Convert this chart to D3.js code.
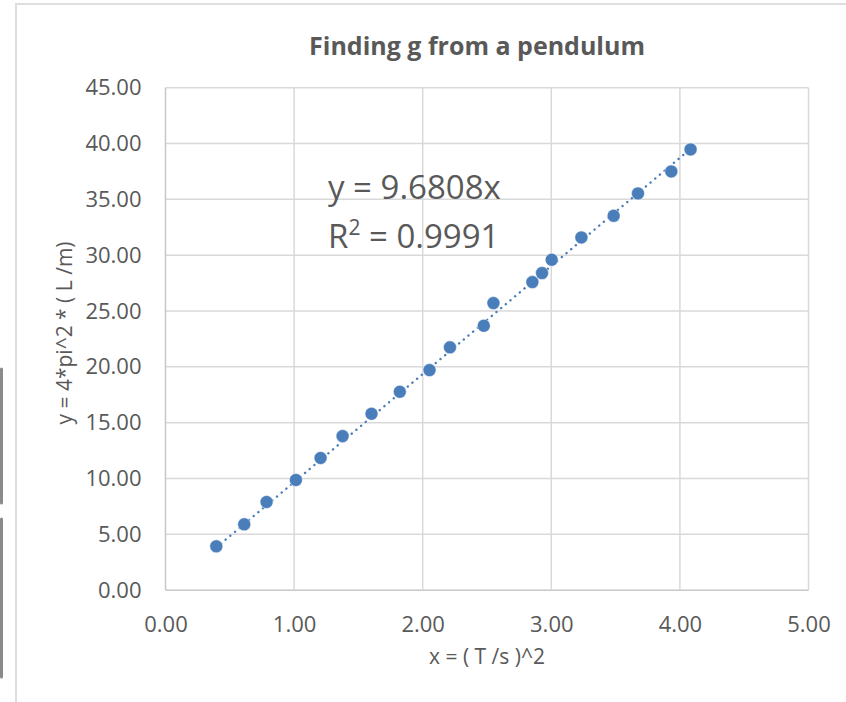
<!DOCTYPE html>
<html>
<head>
<meta charset="utf-8">
<script src="https://cdn.jsdelivr.net/npm/d3@7"></script>
<style>
  html, body { margin: 0; padding: 0; background: #ffffff; }
  svg { display: block; }
  text { font-family: "Open Sans", "Noto Sans", sans-serif; fill: #595959; }
</style>
</head>
<body>
<svg id="chart" width="846" height="702"></svg>
<script>
// Squared period (x) and 4*pi^2*L (y) for each pendulum length
const periodSq = [0.395, 0.612, 0.786, 1.014, 1.206, 1.377, 1.602, 1.822, 2.053, 2.212,
                  2.475, 2.550, 2.853, 2.928, 3.003, 3.234, 3.485, 3.674, 3.933, 4.083];
const fourPi2L = [3.93, 5.90, 7.90, 9.87, 11.84, 13.80, 15.80, 17.77, 19.71, 21.75,
                  23.68, 25.71, 27.59, 28.40, 29.59, 31.59, 33.53, 35.53, 37.50, 39.47];

// Linear fit through the origin
const slope = 9.6808;
const rSquared = 0.9991;

const xTicks = [0, 1, 2, 3, 4, 5];
const yTicks = [0, 5, 10, 15, 20, 25, 30, 35, 40, 45];

const titleText = "Finding g from a pendulum";
const xTitle = "x = ( T /s )^2";
const yTitle = "y = 4*pi^2 * ( L /m)";

const svg = d3.select("#chart");

// Window chrome around the chart
svg.append("rect").attr("x", 16).attr("y", 4).attr("width", 850).attr("height", 720)
  .attr("fill", "#ffffff").attr("stroke", "#dedede").attr("stroke-width", 2);
svg.append("line").attr("x1", 1.5).attr("x2", 1.5).attr("y1", 369).attr("y2", 503)
  .attr("stroke", "#8a8a8a").attr("stroke-width", 3).attr("stroke-linecap", "round");
svg.append("line").attr("x1", 1.5).attr("x2", 1.5).attr("y1", 519).attr("y2", 677)
  .attr("stroke", "#8a8a8a").attr("stroke-width", 3).attr("stroke-linecap", "round");

const plot = { left: 165.5, right: 808.5, top: 87.7, bottom: 590.2 };

const x = d3.scaleLinear().domain([0, 5]).range([plot.left, plot.right]);
const y = d3.scaleLinear().domain([0, 45]).range([plot.bottom, plot.top]);

// Gridlines
const grid = svg.append("g");
grid.selectAll("line.h").data(yTicks).join("line")
  .attr("x1", plot.left).attr("x2", plot.right)
  .attr("y1", d => y(d)).attr("y2", d => y(d))
  .attr("stroke", d => d === 0 ? "#c8c8c8" : "#d9d9d9").attr("stroke-width", 1.5);
grid.selectAll("line.v").data(xTicks).join("line")
  .attr("y1", plot.top).attr("y2", plot.bottom)
  .attr("x1", d => x(d)).attr("x2", d => x(d))
  .attr("stroke", d => d === 0 ? "#c8c8c8" : "#d9d9d9").attr("stroke-width", 1.5);

// Axes (labels only)
const fmt = d3.format(".2f");
const xAxis = svg.append("g").attr("transform", `translate(0,${plot.bottom})`)
  .call(d3.axisBottom(x).tickValues(xTicks).tickFormat(fmt).tickSize(0).tickPadding(26));
const yAxis = svg.append("g").attr("transform", `translate(${plot.left},0)`)
  .call(d3.axisLeft(y).tickValues(yTicks).tickFormat(fmt).tickSize(0).tickPadding(24));
[xAxis, yAxis].forEach(a => {
  a.select(".domain").remove();
  a.selectAll("text").attr("fill", "#595959").style("font-size", "22px")
    .style("font-family", "\"Open Sans\", sans-serif");
});

// Trendline across the data range
const xs = d3.extent(periodSq);
svg.append("line")
  .attr("x1", x(xs[0])).attr("y1", y(slope * xs[0]))
  .attr("x2", x(xs[1])).attr("y2", y(slope * xs[1]))
  .attr("stroke", "#4a7ebb").attr("stroke-width", 2.4)
  .attr("stroke-dasharray", "0.1 6").attr("stroke-linecap", "round");

// Data points
const pts = periodSq.map((v, i) => ({ x: v, y: fourPi2L[i] }));
svg.append("g").selectAll("circle").data(pts).join("circle")
  .attr("cx", d => x(d.x)).attr("cy", d => y(d.y)).attr("r", 6.5)
  .attr("fill", "#4a7ebb").attr("stroke", "#ffffff").attr("stroke-opacity", 0.6).attr("stroke-width", 0.8);

// Title
svg.append("text").attr("x", 477).attr("y", 55).attr("text-anchor", "middle")
  .style("font-size", "25px").style("font-weight", "bold")
  .text(titleText);

// Fit equation and R²
const eq = svg.append("text").attr("x", 328).attr("y", 199).style("font-size", "33px");
eq.text(`y = ${slope}x`);
const r2 = svg.append("text").attr("x", 328).attr("y", 248).style("font-size", "33px");
r2.append("tspan").text("R");
r2.append("tspan").attr("dy", -13).style("font-size", "21px").text("2");
r2.append("tspan").attr("dy", 13).text(` = ${rSquared}`);

// Axis titles
svg.append("text").attr("x", (plot.left + plot.right) / 2).attr("y", 664)
  .attr("text-anchor", "middle").style("font-size", "21px").text(xTitle);
svg.append("text").attr("transform", "translate(72,333) rotate(-90)")
  .attr("text-anchor", "middle").style("font-size", "21px").text(yTitle);
</script>
</body>
</html>
